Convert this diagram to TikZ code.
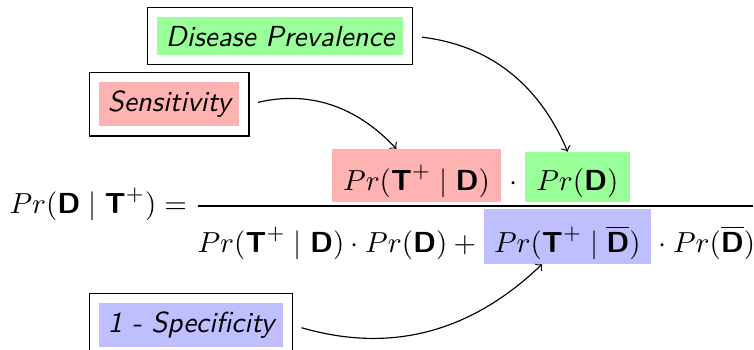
\documentclass[tikz,border=0pt]{standalone}
\usepackage{amsmath,amssymb}
\usepackage{xcolor}
\usetikzlibrary{positioning}
\newcommand{\bT}{\textsf{\textbf{T}}}
\newcommand{\bD}{\textsf{\textbf{D}}}
\tikzset{
  tag/.style={draw,inner sep=0.3333em,font=\sffamily\itshape},
  term/.style={fill=#1,inner xsep=4pt,inner ysep=4pt,text depth=0pt},
  eqn/.style={inner sep=0pt},
  arrow/.style={->,shorten <=3pt}
}

\begin{document}
\begin{tikzpicture}[x=0.345pt,y=0.345pt]
\useasboundingbox (0,0) rectangle (754,349);
% left side and fraction bar
\node[eqn,anchor=base west] (lhs) at (9,136) {$Pr(\bD \mid \bT^+) =$};
\coordinate (barl) at (198,143);
\coordinate (barr) at (753,143);
\draw (barl) -- (barr);
% numerator
\node[term=red!30,anchor=base west,text height=10pt] (pink) at (331,159) {$Pr(\bT^+ \mid \bD)$};
\node[eqn,base right=0pt of pink] (ndot) {${}\cdot{}$};
\node[term=green!40,base right=0pt of ndot,text height=9pt] (grn) {$Pr(\bD)$};
% denominator
\node[eqn,anchor=base west] (den1) at (197,97) {$Pr(\bT^+ \mid \bD) \cdot Pr(\bD) +{}$};
\node[term=blue!25,base right=0pt of den1,inner xsep=3.5pt,text height=11pt] (blu) {$Pr(\bT^+ \mid \overline{\bD})$};
\node[eqn,base right=0pt of blu] (den2) {${}\cdot Pr(\overline{\bD})$};
% labels
\node[tag,anchor=north west] (prev) at (147,342) {\colorbox{green!40}{Disease Prevalence}};
\node[tag,anchor=north west] (sens) at (89,277) {\colorbox{red!30}{Sensitivity}};
\node[tag,anchor=north west] (spec) at (89,56) {\colorbox{blue!25}{1 - Specificity}};
% arrows
\draw[arrow] (prev.east) to[bend left] (grn.111);
\draw[arrow] (sens.east) to[bend left] (pink.127);
\draw[arrow] (spec.east) to[bend right] (blu.228);
\end{tikzpicture}
\end{document}
